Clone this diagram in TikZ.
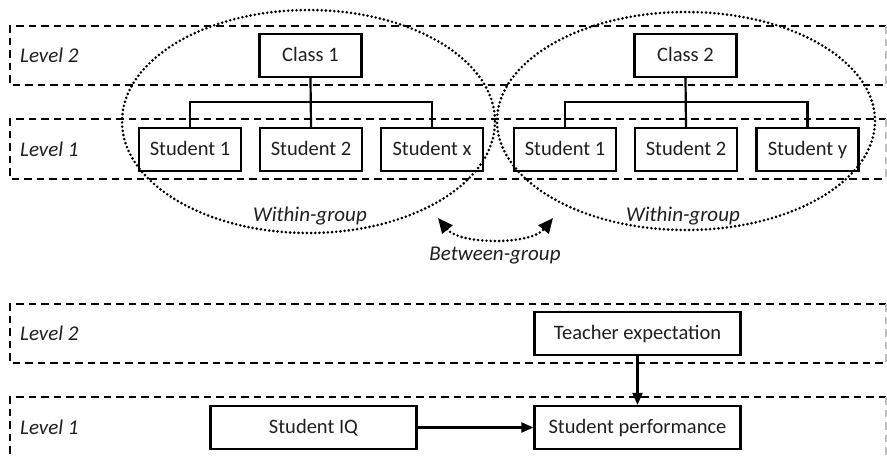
\documentclass[tikz,border=0pt]{standalone}
\usepackage{fontspec}
\setmainfont{Carlito}
\usetikzlibrary{arrows.meta}
\begin{document}
\begin{tikzpicture}[x=1pt,y=-1pt,
  box/.style={draw, line width=2.2pt, inner sep=0pt, minimum width=102pt,
    minimum height=43pt, text height=15pt, text depth=3pt,
    font=\fontsize{20.5}{24}\selectfont, text=black!88},
  widebox/.style={box, minimum width=206pt},
  levellabel/.style={anchor=west, inner sep=0pt,
    font=\fontsize{21}{24}\selectfont\itshape, text=black!88},
  grouplabel/.style={inner sep=0pt, font=\fontsize{21}{24}\selectfont\itshape,
    text=black!88},
  levelline/.style={line width=1.6pt, dash pattern=on 7.5pt off 5pt},
  levelright/.style={line width=1.6pt, dash pattern=on 7.5pt off 5pt, black!25},
  tree/.style={line width=2.2pt},
  dotline/.style={line width=2.9pt, line cap=round, dash pattern=on 0pt off 4.2pt},
  link/.style={line width=2.2pt, -{Triangle[length=12pt,width=10pt]}},
]
\clip (0,0) rectangle (887,456);
\fill[white] (0,0) rectangle (887,456);

% level bands
\foreach \ya/\yb in {26/85, 119/179, 304/363, 397/480}{
  \draw[levelline] (886,\ya) -- (10,\ya) -- (10,\yb) -- (886,\yb);
  \draw[levelright] (886,\ya) -- (886,\yb);
}
\node[levellabel] (l2a) at (20,55) {Level 2};
\node[levellabel] (l1a) at (20,149) {Level 1};
\node[levellabel] (l2b) at (20,333) {Level 2};
\node[levellabel] (l1b) at (20,427) {Level 1};

% first class and its students
\node[box] (c1) at (310.5,55.5) {Class 1};
\node[box] (a1) at (190,149.5) {Student 1};
\node[box] (a2) at (311,149.5) {Student 2};
\node[box] (ax) at (432,149.5) {Student x};
\draw[tree] (c1.south) -- (a2.north);
\draw[tree] (a1.north) -- ++(0,-25) -| (ax.north);

% second class and its students
\node[box] (c2) at (685.5,55.5) {Class 2};
\node[box] (b1) at (565,149.5) {Student 1};
\node[box] (b2) at (686,149.5) {Student 2};
\node[box] (by) at (807.5,149.5) {Student y};
\draw[tree] (c2.south) -- (b2.north);
\draw[tree] (b1.north) -- ++(0,-25) -| (by.north);

% groups
\draw[dotline] (308.5,121.5) ellipse [x radius=186.5, y radius=111.5];
\draw[dotline] (686,121) ellipse [x radius=189, y radius=109];
\node[grouplabel] (wg1) at (310,216) {Within-group};
\node[grouplabel] (wg2) at (683,216) {Within-group};

\coordinate (bgl) at (438,218);
\coordinate (bgr) at (553,218);
\draw[dotline, {Triangle[length=15pt,width=13pt,line cap=butt]}-{Triangle[length=15pt,width=13pt,line cap=butt]}]
  (bgl) .. controls +(22,27) and +(-22,27) .. (bgr);
\node[grouplabel] (bg) at (495,256) {Between-group};

% predictors of performance
\node[widebox] (te) at (637.5,333.5) {Teacher expectation};
\node[widebox] (iq) at (313.5,427.5) {Student IQ};
\node[widebox] (sp) at (637.5,427.5) {Student performance};
\draw[link] (te) -- (sp);
\draw[link] (iq) -- (sp);
\end{tikzpicture}
\end{document}
